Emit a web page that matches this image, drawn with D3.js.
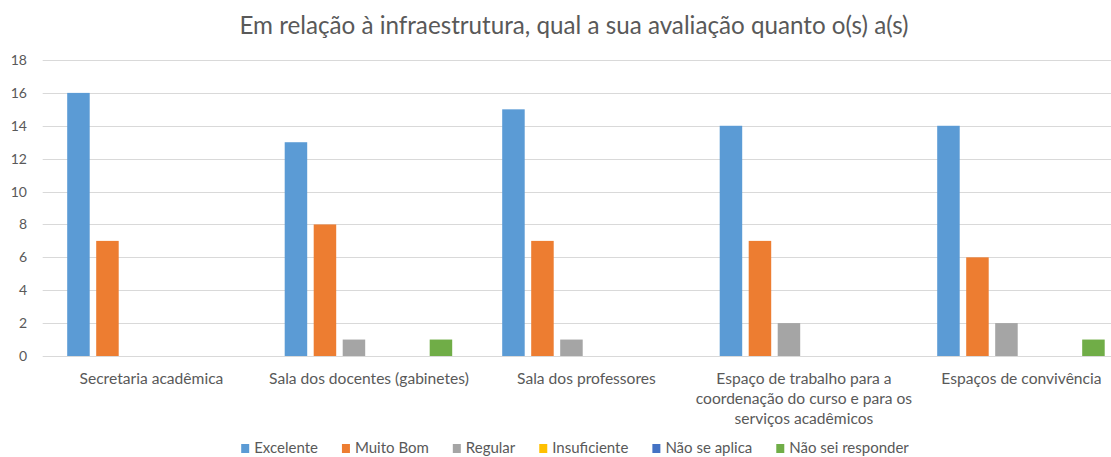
<!DOCTYPE html>
<html><head><meta charset="utf-8">
<script src="https://cdn.jsdelivr.net/npm/d3@7"></script>
<style>body{margin:0;background:#fff}svg{display:block}text{font-family:Lato,"Noto Sans",sans-serif;fill:#595959}</style>
</head><body>
<svg id="c" width="1111" height="457"></svg>
<script>
const title = "Em relação à infraestrutura, qual a sua avaliação quanto o(s) a(s)";
const categories = [
  ["Secretaria acadêmica"],
  ["Sala dos docentes (gabinetes)"],
  ["Sala dos professores"],
  ["Espaço de trabalho para a","coordenação do curso e para os","serviços acadêmicos"],
  ["Espaços de convivência"]
];
const seriesNames = ["Excelente","Muito Bom","Regular","Insuficiente","Não se aplica","Não sei responder"];
const colors = ["#5B9BD5","#ED7D31","#A5A5A5","#FFC000","#4472C4","#70AD47"];
const excelente     = [16,13,15,14,14];
const muitoBom      = [7,8,7,7,6];
const regular       = [0,1,1,2,2];
const insuficiente  = [0,0,0,0,0];
const naoSeAplica   = [0,0,0,0,0];
const naoSeiResp    = [0,1,0,0,1];
const yTicks = [0,2,4,6,8,10,12,14,16,18];

const series = [excelente,muitoBom,regular,insuficiente,naoSeAplica,naoSeiResp];
const svg = d3.select("#c");
const left = 42.7, groupW = 217.5;
const x0 = d3.scaleBand().domain(d3.range(categories.length)).range([left, left+groupW*categories.length]).padding(0);
const x1 = d3.scaleBand().domain(d3.range(seriesNames.length)).range([24.5, 192]).paddingInner(0.224).paddingOuter(0);
const y = d3.scaleLinear().domain([0,18]).range([356,60]);

svg.append("text").attr("x",574).attr("y",34).attr("text-anchor","middle")
  .style("font-size","24.2px").text(title);

const g = svg.append("g");
g.selectAll("line.grid").data(yTicks).join("line")
  .attr("x1",left).attr("x2",1111).attr("y1",d=>Math.round(y(d))+0.5).attr("y2",d=>Math.round(y(d))+0.5)
  .attr("stroke","#d9d9d9").attr("stroke-width",1);
g.selectAll("text.yt").data(yTicks).join("text")
  .attr("x",27).attr("y",d=>y(d)).attr("dy","0.36em").attr("text-anchor","end").style("font-size","14px").text(d=>d);

categories.forEach((c,ci)=>{
  const gx = x0(ci);
  series.forEach((s,si)=>{
    const v = s[ci];
    if(v>0){
      g.append("rect").attr("x",gx+x1(si)).attr("width",x1.bandwidth())
        .attr("y",y(v)).attr("height",y(0)-y(v)).attr("fill",colors[si]);
    }
  });
  const t = g.append("text").attr("text-anchor","middle").style("font-size","15.6px");
  c.forEach((line,li)=>{
    t.append("tspan").attr("x",gx+x0.bandwidth()/2).attr("y",384+li*20).text(line);
  });
});

// legend
const lg = svg.append("g");
const items = [];
let cx = 0;
seriesNames.forEach((n,i)=>{
  const t = lg.append("text").attr("y",453).style("font-size","15px").text(n);
  const w = t.node().getComputedTextLength();
  items.push({t,x:cx,i});
  cx += 13 + w + 24;
});
const total = cx - 24;
const startX = 575 - total/2;
items.forEach(it=>{
  lg.append("rect").attr("x",startX+it.x).attr("y",444).attr("width",8).attr("height",9).attr("fill",colors[it.i]);
  it.t.attr("x",startX+it.x+13);
});
</script>
</body></html>
